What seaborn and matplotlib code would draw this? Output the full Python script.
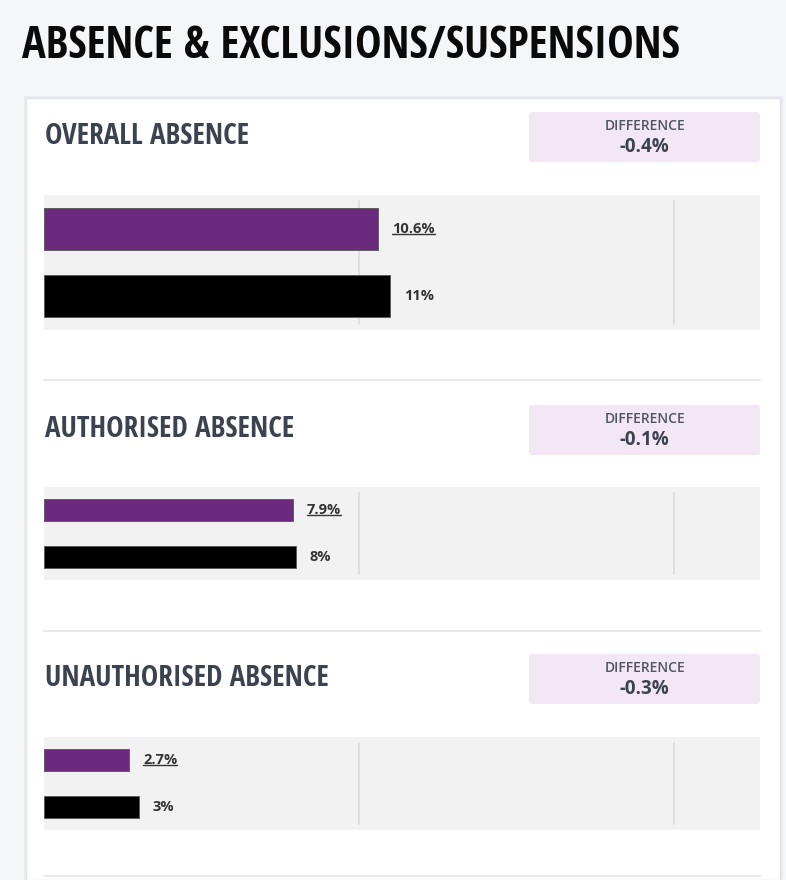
import matplotlib
matplotlib.use("Agg")
import matplotlib.pyplot as plt
from matplotlib import font_manager
from matplotlib.patches import Rectangle, FancyBboxPatch
import seaborn as sns
import pandas as pd

# ---- data ----
sections = ["OVERALL ABSENCE", "AUTHORISED ABSENCE", "UNAUTHORISED ABSENCE"]
differences = ["-0.4%", "-0.1%", "-0.3%"]
school_values = [10.6, 7.9, 2.7]
national_values = [11, 8, 3]
school_labels = ["10.6%", "7.9%", "2.7%"]
national_labels = ["11%", "8%", "3%"]
series = ["School", "National"]
title = "ABSENCE & EXCLUSIONS/SUSPENSIONS"

sns.set_theme(style="white")
avail = {f.name for f in font_manager.fontManager.ttflist}
cond = "DejaVu Sans"
for cand in ["Open Sans Condensed", "Liberation Sans Narrow", "DejaVu Sans Condensed", "Roboto Condensed"]:
    if cand in avail:
        cond = cand
        break
body = "Open Sans" if "Open Sans" in avail else "DejaVu Sans"
plt.rcParams["font.family"] = [body, "DejaVu Sans"]

W, H = 786, 880
fig = plt.figure(figsize=(W / 100, H / 100), dpi=100)
fig.patch.set_facecolor("#f5f6f8")

def fx(px):
    return px / W

def fy(py):
    return 1 - py / H

# card background (shadow + card) drawn beneath the axes
shadow = Rectangle((fx(24), fy(881)), fx(783) - fx(24), fy(96) - fy(881),
                   transform=fig.transFigure, facecolor="#ebecef",
                   edgecolor="none", zorder=-3)
fig.patches.append(shadow)
card = Rectangle((fx(26), fy(880)), fx(780) - fx(26), fy(98) - fy(880),
                 transform=fig.transFigure, facecolor="white",
                 edgecolor="#e2e3e6", linewidth=1.0, zorder=-2)
fig.patches.append(card)

fig.text(fx(22), fy(46), title, fontsize=32, fontweight="bold",
         family=[cond, "DejaVu Sans"], color="#0a0a0a", va="center", ha="left")

# layout per section: heading y, diff box top, panel top, panel bottom, divider y, bar width
layout = [
    (136, 112, 195, 330, 380, 0.62),
    (429, 405, 487, 580, 631, 0.48),
    (678, 654, 737, 830, 876, 0.48),
]

xmax = 716 / 31.5
purple = "#6b2a7e"
underline_jobs = []

for i, (hy, dtop, ptop, pbot, divy, bw) in enumerate(layout):
    fig.text(fx(45), fy(hy), sections[i], fontsize=21, fontweight="bold",
             family=[cond, "DejaVu Sans"], color="#3b4250", va="center", ha="left")
    box = FancyBboxPatch((fx(529), fy(dtop + 50)), fx(760) - fx(529), fy(dtop) - fy(dtop + 50),
                         boxstyle="round,pad=0,rounding_size=0.004",
                         transform=fig.transFigure, facecolor="#f3e6f5",
                         edgecolor="none", zorder=-1)
    fig.patches.append(box)
    fig.text(fx(645), fy(dtop + 14), "DIFFERENCE", fontsize=10, fontweight="semibold",
             color="#50555f", ha="center", va="center")
    fig.text(fx(644), fy(dtop + 35), differences[i], fontsize=13.5, fontweight="bold",
             color="#3b4250", ha="center", va="center")
    # divider
    fig.add_artist(plt.Line2D([fx(44), fx(760)], [fy(divy), fy(divy)],
                              transform=fig.transFigure, color="#e4e4e6", linewidth=1.2))

    ax = fig.add_axes([fx(44), fy(pbot), fx(760) - fx(44), fy(ptop) - fy(pbot)])
    ax.set_facecolor("#f2f2f2")
    df = pd.DataFrame({"series": series,
                       "value": [school_values[i], national_values[i]]})
    sns.barplot(data=df, x="value", y="series", hue="series",
                palette=[purple, "#000000"], orient="h", width=bw,
                ax=ax, legend=False, saturation=1, edgecolor="#555555", linewidth=0.6,
                zorder=3)
    ax.set_xlim(0, xmax)
    ax.set_ylim(1.5, -0.5)
    ph = pbot - ptop
    for g in (10, 20):
        ax.axvline(g, ymin=6 / ph, ymax=1 - 6 / ph, color="#dcdcdc", linewidth=1.3, zorder=1)
    for s in ax.spines.values():
        s.set_visible(False)
    ax.set_xticks([])
    ax.set_yticks([])
    ax.set_xlabel("")
    ax.set_ylabel("")
    off = 14 / 31.5
    t1 = ax.text(school_values[i] + off, 0, school_labels[i], fontsize=10.5,
                 fontweight="bold", color="#333333", va="center", ha="left", zorder=4)
    ax.text(national_values[i] + off, 1, national_labels[i], fontsize=10.5,
            fontweight="bold", color="#333333", va="center", ha="left", zorder=4)
    underline_jobs.append((ax, t1))

fig.canvas.draw()
renderer = fig.canvas.get_renderer()
for ax, t in underline_jobs:
    bb = t.get_window_extent(renderer)
    y = bb.y0 + 2
    fig.add_artist(plt.Line2D([bb.x0 / W, bb.x1 / W], [y / H, y / H],
                              transform=fig.transFigure, color="#333333", linewidth=1.0))

fig.savefig("out.png", dpi=100, facecolor=fig.get_facecolor())
